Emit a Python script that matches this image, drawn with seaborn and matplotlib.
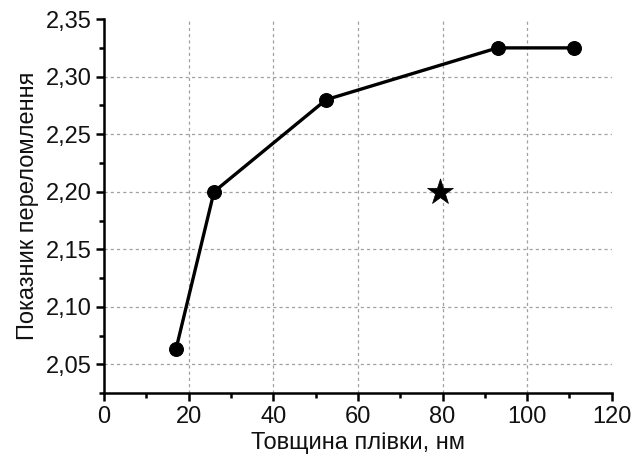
import numpy as np
import pandas as pd
import seaborn as sns
import matplotlib.pyplot as plt
from matplotlib.ticker import FuncFormatter, MultipleLocator

# data
thickness = [17, 26, 52.5, 93, 111]
index_vals = [2.063, 2.20, 2.28, 2.325, 2.325]
star_x = [79.5]
star_y = [2.20]

df = pd.DataFrame({"thickness": thickness, "n": index_vals})
star = pd.DataFrame({"thickness": star_x, "n": star_y})

sns.set_theme(style="ticks")
plt.rcParams["font.family"] = ["Liberation Sans", "DejaVu Sans"]

fig = plt.figure(figsize=(6.44, 4.55), dpi=100)
ax = fig.add_axes([0.1615, 0.136, 0.7885, 0.822])

sns.lineplot(data=df, x="thickness", y="n", ax=ax, color="black", linewidth=2.4,
             marker="o", markersize=10, markeredgecolor="black", zorder=3)
sns.scatterplot(data=star, x="thickness", y="n", ax=ax, color="black",
                marker="*", s=380, edgecolor="black", linewidth=0.5, zorder=3)

ax.set_xlim(0, 120)
ax.set_ylim(2.025, 2.35)
ax.xaxis.set_major_locator(MultipleLocator(20))
ax.xaxis.set_minor_locator(MultipleLocator(10))
ax.yaxis.set_major_locator(MultipleLocator(0.05))
ax.yaxis.set_minor_locator(MultipleLocator(0.025))
ax.yaxis.set_major_formatter(FuncFormatter(lambda v, p: f"{v:.2f}".replace(".", ",")))

ax.grid(True, which="major", color="#a0a0a0", linestyle=(0, (2.5, 2.5)), linewidth=0.9)
fig.canvas.draw()
for t, g in zip(ax.get_xticks(), ax.xaxis.get_gridlines()):
    if t <= 0 or t >= 120:
        g.set_visible(False)
for t, g in zip(ax.get_yticks(), ax.yaxis.get_gridlines()):
    if t >= 2.349:
        g.set_visible(False)

for side in ["top", "right"]:
    ax.spines[side].set_visible(False)
for side in ["left", "bottom"]:
    ax.spines[side].set_linewidth(1.8)
    ax.spines[side].set_color("black")

ax.tick_params(which="major", direction="out", length=6, width=1.8, labelsize=17,
               colors="black", labelcolor="#111111", pad=3)
ax.tick_params(which="minor", direction="out", length=3.5, width=1.8, colors="black")

ax.set_xlabel("Товщина плівки, нм", fontsize=17, labelpad=3, color="#111111")
ax.set_ylabel("Показник переломлення", fontsize=17, labelpad=5, color="#111111")

fig.savefig("out.png", dpi=100)
